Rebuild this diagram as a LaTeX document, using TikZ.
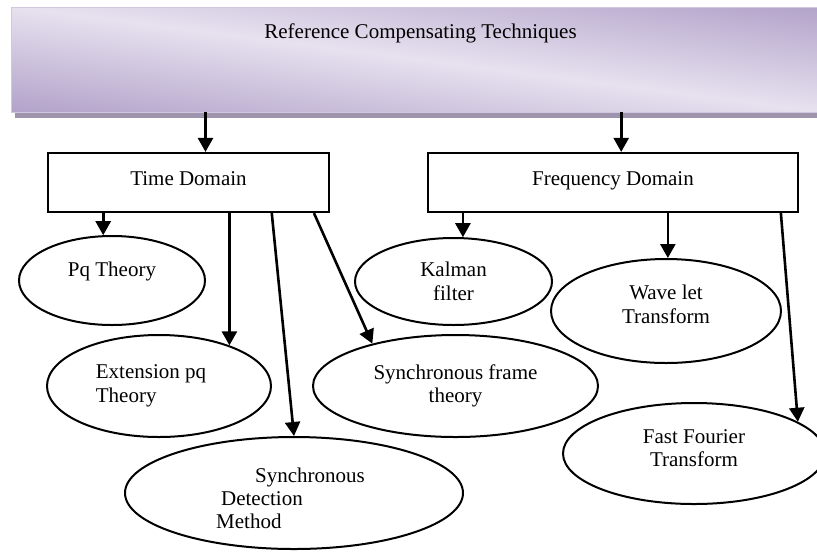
\documentclass[tikz,border=0pt]{standalone}
\usepackage{fontspec}
\setmainfont{Liberation Serif}
\usepackage{xcolor}
\usetikzlibrary{arrows.meta}
\usetikzlibrary{calc}
\usetikzlibrary{shapes.geometric}
\usetikzlibrary{shadows}
\definecolor{banlight}{RGB}{231,225,239}
\definecolor{bandark}{RGB}{176,160,200}
\definecolor{banshadow}{RGB}{158,148,172}
\newcommand{\padbelow}[1]{\rule[-#1]{0pt}{#1}}
\newcommand{\padabove}[1]{\rule{0pt}{#1}}

\begin{document}
\begin{tikzpicture}[x=0.5pt, y=-0.5pt,
    font=\fontsize{10.5pt}{11.7pt}\selectfont,
    banner/.style={rectangle, inner sep=0pt, minimum width=409.5pt,
      text height=15.5pt, text depth=37pt,
      fill=banlight, draw=banlight!60!bandark, line width=0.4pt,
      path picture={
        \begin{scope}[transform canvas={rotate around={-7.4:(path picture bounding box.center)}}]
          \shade[top color=bandark, bottom color=bandark, middle color=banlight]
            ($(path picture bounding box.center)+(-470,-108)$) rectangle
            ($(path picture bounding box.center)+(470,108)$);
        \end{scope}},
      drop shadow={shadow xshift=2pt, shadow yshift=-3pt, fill=banshadow, opacity=1}},
    dombox/.style={rectangle, draw, line width=1.1pt, inner sep=0pt,
      text height=7.2pt, text depth=4.7pt, minimum height=29.5pt},
    oval/.style={ellipse, draw, line width=1pt, inner sep=1pt, align=center},
    arr/.style={-{Triangle[length=7pt,width=7.5pt]}, line width=1.3pt}]
  \useasboundingbox (0,0) rectangle (817,552);

  \node[banner] (rct) at (420.5,59.5) {Reference Compensating Techniques};

  \node[dombox, minimum width=140.5pt] (td) at (188.5,182.5) {Time Domain};
  \node[dombox, minimum width=185pt] (fd) at (613,182.5) {Frequency Domain};

  \node[oval, minimum width=93pt, minimum height=44.5pt, text depth=11pt] (pq) at (112,280.5) {Pq Theory};
  \node[oval, minimum width=112pt, minimum height=51pt, align=left] (extpq) at (159,386)
    {Extension pq\hspace*{8pt}\\Theory};
  \node[oval, minimum width=169pt, minimum height=56pt, align=left] (sdm) at (294,493)
    {\padabove{12.5pt}\hspace*{19.5pt}Synchronous\hspace*{3.5pt}\\\hspace*{2.5pt}Detection\\Method};
  \node[oval, minimum width=142.5pt, minimum height=51pt] (sft) at (455.5,386) {Synchronous frame\\theory};
  \node[oval, minimum width=98.5pt, minimum height=43.5pt] (kalman) at (453.5,281.5) {Kalman\\filter};
  \node[oval, minimum width=115pt, minimum height=52pt] (wavelet) at (666,311) {Wave let\\Transform\padbelow{6.7pt}};
  \node[oval, minimum width=131pt, minimum height=50.5pt] (fft) at (694,453.5) {Fast Fourier\\Transform\padbelow{5.7pt}};

  \coordinate (tdin) at ($(td.north west)!.56!(td.north east)$);
  \coordinate (fdin) at ($(fd.north west)!.522!(fd.north east)$);
  \draw[arr] (rct.south -| tdin) -- (tdin);
  \draw[arr] (rct.south -| fdin) -- (fdin);

  \draw[arr] (pq.101 |- td.south) -- (pq.101);
  \draw[arr] (extpq.30 |- td.south) -- (extpq.30);
  \draw[arr] ($(td.south west)!.794!(td.south east)$) -- (sdm.north);
  \draw[arr] ($(td.south west)!.943!(td.south east)$) -- (sft.153);

  \draw[arr] (kalman.78 |- fd.south) -- (kalman.78);
  \draw[arr] (wavelet.88 |- fd.south) -- (wavelet.88);
  \draw[arr] ($(fd.south west)!.951!(fd.south east)$) -- (fft.17);
\end{tikzpicture}
\end{document}
